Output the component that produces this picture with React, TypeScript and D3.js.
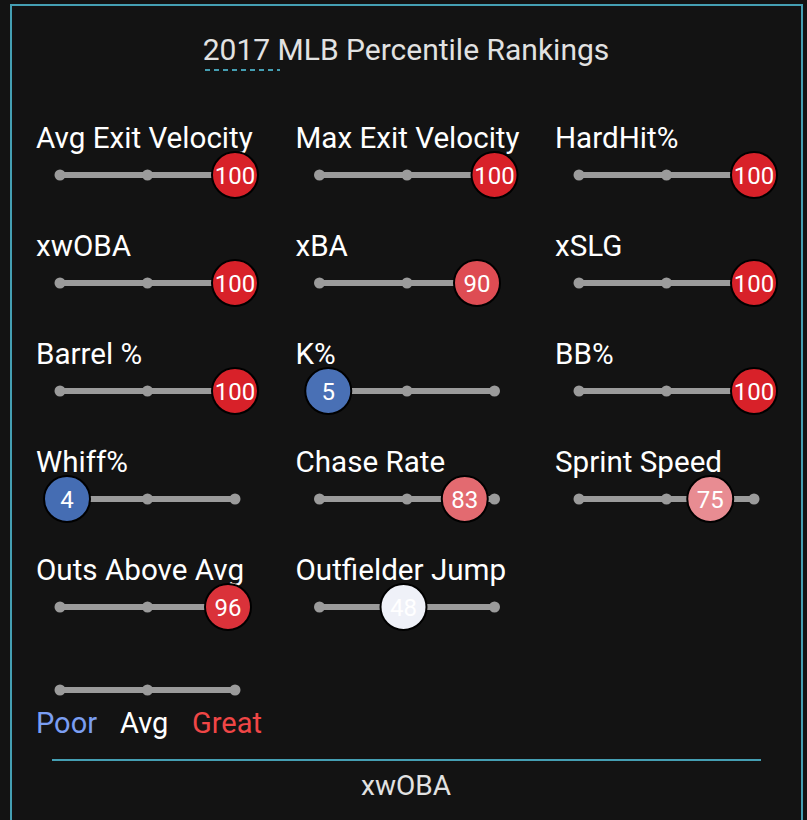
import { useEffect, useRef } from 'react';
import * as d3 from 'd3';

const metrics = [
  'Avg Exit Velocity', 'Max Exit Velocity', 'HardHit%',
  'xwOBA', 'xBA', 'xSLG',
  'Barrel %', 'K%', 'BB%',
  'Whiff%', 'Chase Rate', 'Sprint Speed',
  'Outs Above Avg', 'Outfielder Jump',
];
const percentiles = [100, 100, 100, 100, 90, 100, 100, 5, 100, 4, 83, 75, 96, 48];
const legendLabels = ['Poor', 'Avg', 'Great'];
const legendColors = ['#7b9ef2', '#ffffff', '#f04646'];
const title = '2017 MLB Percentile Rankings';
const footer = 'xwOBA';

const App = () => {
  const svgRef = useRef(null);

  useEffect(() => {
    document.body.style.margin = '0';
    document.body.style.background = '#131313';

    const width = 807;
    const height = 820;
    const teal = '#459fb3';

    const svg = d3.select(svgRef.current)
      .attr('width', width)
      .attr('height', height)
      .style('display', 'block')
      .style('font-family', 'Roboto, sans-serif');

    svg.selectAll('*').remove();

    svg.append('rect')
      .attr('width', width).attr('height', height)
      .attr('fill', '#131313');

    // outer frame (bottom edge runs off the page)
    svg.append('rect')
      .attr('x', 11).attr('y', 5)
      .attr('width', 791).attr('height', 840)
      .attr('fill', 'none')
      .attr('stroke', teal)
      .attr('stroke-width', 2);

    svg.append('text')
      .attr('x', 406).attr('y', 60)
      .attr('text-anchor', 'middle')
      .attr('fill', '#e2e2e2')
      .style('font-size', '30px')
      .text(title);

    svg.append('line')
      .attr('x1', 205).attr('x2', 280)
      .attr('y1', 70).attr('y2', 70)
      .attr('stroke', teal)
      .attr('stroke-width', 2)
      .attr('stroke-dasharray', '5,4');

    const color = d3.scaleLinear()
      .domain([0, 50, 100])
      .range(['#3661ad', '#f7f7fb', '#d82129']);

    const colX = d3.scaleLinear().domain([0, 1]).range([0, 259.5]);
    const rowY = d3.scaleLinear().domain([0, 1]).range([0, 108]);
    const trackW = 175;
    const pos = d3.scaleLinear().domain([0, 100]).range([0, trackW]);

    const drawTrack = (g, y) => {
      g.append('line')
        .attr('x1', pos(0)).attr('x2', pos(100))
        .attr('y1', y).attr('y2', y)
        .attr('stroke', '#9b9b9b')
        .attr('stroke-width', 6);
      g.selectAll('circle.tick')
        .data([0, 50, 100])
        .enter()
        .append('circle')
        .attr('class', 'tick')
        .attr('cx', d => pos(d))
        .attr('cy', y)
        .attr('r', 5.5)
        .attr('fill', '#9b9b9b');
    };

    const cells = svg.selectAll('g.metric')
      .data(metrics.map((name, i) => ({ name, value: percentiles[i], i })))
      .enter()
      .append('g')
      .attr('class', 'metric')
      .attr('transform', d => `translate(${60 + colX(d.i % 3)},${rowY(Math.floor(d.i / 3))})`);

    cells.append('text')
      .attr('x', -24).attr('y', 148)
      .attr('fill', '#ffffff')
      .style('font-size', '29.6px')
      .text(d => d.name);

    cells.each(function () {
      drawTrack(d3.select(this), 175);
    });

    cells.append('circle')
      .attr('cx', d => pos(d.value))
      .attr('cy', 175)
      .attr('r', 23)
      .attr('fill', d => color(d.value))
      .attr('stroke', '#000')
      .attr('stroke-width', 2);

    cells.append('text')
      .attr('x', d => pos(d.value))
      .attr('y', 175)
      .attr('dy', '0.36em')
      .attr('text-anchor', 'middle')
      .attr('fill', '#ffffff')
      .style('font-size', '24px')
      .text(d => d.value);

    // legend
    const legend = svg.append('g').attr('transform', 'translate(60,0)');
    drawTrack(legend, 690);
    legend.selectAll('text')
      .data(legendLabels)
      .enter()
      .append('text')
      .attr('x', (d, i) => [-24, 60, 132][i])
      .attr('y', 733)
      .attr('fill', (d, i) => legendColors[i])
      .style('font-size', '29px')
      .text(d => d);

    svg.append('line')
      .attr('x1', 52).attr('x2', 761)
      .attr('y1', 760).attr('y2', 760)
      .attr('stroke', teal)
      .attr('stroke-width', 2);

    svg.append('text')
      .attr('x', 406).attr('y', 795)
      .attr('text-anchor', 'middle')
      .attr('fill', '#e2e2e2')
      .style('font-size', '28px')
      .text(footer);
  }, []);

  return (
    <div>
      <svg ref={svgRef}></svg>
    </div>
  );
};

export default App;
